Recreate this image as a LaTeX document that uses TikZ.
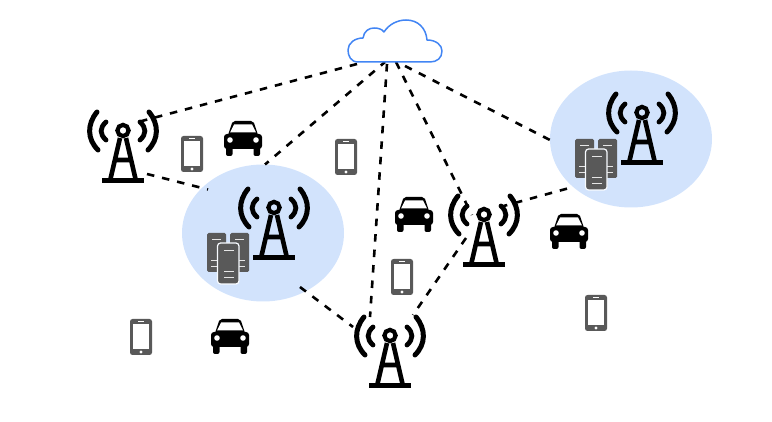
\documentclass[tikz,border=0pt]{standalone}
\usetikzlibrary{calc}
\definecolor{blob}{HTML}{D2E3FC}
\definecolor{cloudblue}{HTML}{4285F4}
\definecolor{devgray}{HTML}{595959}
\tikzset{
  x=1pt,y=-1pt,
  holder/.style={inner sep=0pt,outer sep=0pt},
  link/.style={draw=black,line width=2.6pt,dash pattern=on 7.5pt off 8pt},
  tower/.pic={
    \draw[line width=4.2pt] (0,-.5) circle (5.6);
    \draw[line width=4.6pt,line join=miter] (-13,50) -- (-3,7) (3,7) -- (13,50) (-8,29) -- (8,29);
    \draw[line width=5pt] (-21,50) -- (21,50);
    \draw[line width=4.8pt,line cap=round] (-17,-9) .. controls (-23.5,-3) and (-23.5,3) .. (-17,9);
    \draw[line width=4.8pt,line cap=round] (17,-9) .. controls (23.5,-3) and (23.5,3) .. (17,9);
    \draw[line width=5pt,line cap=round] (-26,-19) .. controls (-36,-7) and (-36,8) .. (-25,19);
    \draw[line width=5pt,line cap=round] (26,-19) .. controls (36,-7) and (36,8) .. (25,19);
  },
  phone/.pic={
    \fill[devgray,rounded corners=2.5pt] (-11,-18) rectangle (11,18);
    \fill[white] (-8,-13) rectangle (8,12);
    \fill[white] (-3,-15.8) rectangle (3,-14.8);
    \fill[white] (0,15) circle (1.6);
  },
  car/.pic={
    \fill[black,rounded corners=3pt] (-19,11) rectangle (19,-4);
    \fill[black] (-16,0) -- (-11,-15) [rounded corners=2pt] -- (-10,-17) -- (10,-17) [sharp corners] -- (11,-15) -- (16,0) -- cycle;
    \fill[black,rounded corners=2pt] (-17,8) rectangle (-10.5,18);
    \fill[black,rounded corners=2pt] (10.5,8) rectangle (17,18);
    \fill[white] (-9,-13.5) -- (9,-13.5) -- (13,-5.5) -- (-13,-5.5) -- cycle;
    \fill[white] (-13,2) circle (2.8);
    \fill[white] (13,2) circle (2.8);
  },
  servers/.pic={
    \foreach \xa in {0,23}{
      \fill[devgray,rounded corners=1.5pt] (\xa,0) rectangle ++(19,39);
      \draw[white!85!devgray,line width=1pt] (\xa+5,7) -- ++(9,0);
      \draw[white!85!devgray,line width=1pt] (\xa+4,28) -- ++(11,0);
      \draw[white!85!devgray,line width=1pt] (\xa+4,34) -- ++(11,0);
    }
    \fill[devgray,draw=white!85!blob,line width=1.2pt,rounded corners=3pt] (10.5,10) rectangle (32,51);
    \draw[white!85!devgray,line width=1pt] (17,18) -- ++(10,0);
    \draw[white!85!devgray,line width=1pt] (17,39) -- ++(10,0);
    \draw[white!85!devgray,line width=1pt] (17,45) -- ++(10,0);
  },
}
\begin{document}
\begin{tikzpicture}
\useasboundingbox (0,0) rectangle (772,422);
% named places
\node[holder,minimum width=94pt,minimum height=42pt] (cloud) at (395,41) {};
\node[holder,minimum width=72pt,minimum height=72pt] (t1) at (123,145) {};
\node[holder,minimum width=72pt,minimum height=72pt] (t3) at (484,229) {};
\node[holder,minimum width=72pt,minimum height=72pt] (t4) at (390,350) {};
\node[holder,minimum width=162pt,minimum height=137pt] (c1) at (263,233) {};
\node[holder,minimum width=162pt,minimum height=137pt] (c2) at (631,139) {};
% cells
\fill[blob] (c1) ellipse (81 and 68.5);
\fill[blob] (c2) ellipse (81 and 68.5);
% connectors
\path[link] ($(cloud.south)+(-38,2)$) -- ($(t1.north east)+(-21,13)$);
\path[link,dash phase=2pt] ($(cloud.south)+(-10,0)$) -- ($(c1.north)+(2,0)$);
\path[link] ($(cloud.south)+(-8,2)$) -- ($(t4.north)+(-20,3)$);
\path[link] ($(cloud.south)+(1,0)$) -- ($(t3.center)+(-12,-14)$);
\path[link] ($(cloud.south)+(10,4)$) -- ($(c2.west)+(0,1)$);
\path[link] ($(t1.south east)+(-12,-7)$) -- ($(c1.north west)+(26,25)$);
\path[link] ($(c1.south)+(37,-14.5)$) -- ($(t4.north)+(-37,13)$);
\path[link] ($(t3.center)+(-18,9)$) -- ($(t4.north)+(23,1)$);
\path[link] ($(t3.north east)+(-20,14)$) -- ($(c2.south west)+(23,-20.5)$);
% cloud
\draw[cloudblue,line width=1.5pt,fill=white,line join=round]
  (358,62) .. controls (351,62) and (348,56) .. (348,50)
  .. controls (348,43) and (355,38) .. (363,38)
  .. controls (364,31) and (369,28) .. (374,28)
  .. controls (378,28) and (382,29) .. (384,32)
  .. controls (389,24) and (398,20) .. (406,20)
  .. controls (418,20) and (426,28) .. (427,40)
  .. controls (436,40) and (442,45) .. (442,51)
  .. controls (442,58) and (437,62) .. (430,62) -- cycle;
% towers
\path (123,131) pic {tower};
\path (274,208) pic {tower};
\path (484,215) pic {tower};
\path (390,336) pic {tower};
\path (642,113) pic {tower};
% servers
\path (207,233) pic {servers};
\path (575,139) pic {servers};
% phones
\path (192,154) pic {phone};
\path (346,157) pic {phone};
\path (402,277) pic {phone};
\path (141,337) pic {phone};
\path (596,313) pic {phone};
% cars
\path (243,138) pic {car};
\path (414,214) pic {car};
\path (569,231) pic {car};
\path (230,336) pic {car};
\end{tikzpicture}
\end{document}
